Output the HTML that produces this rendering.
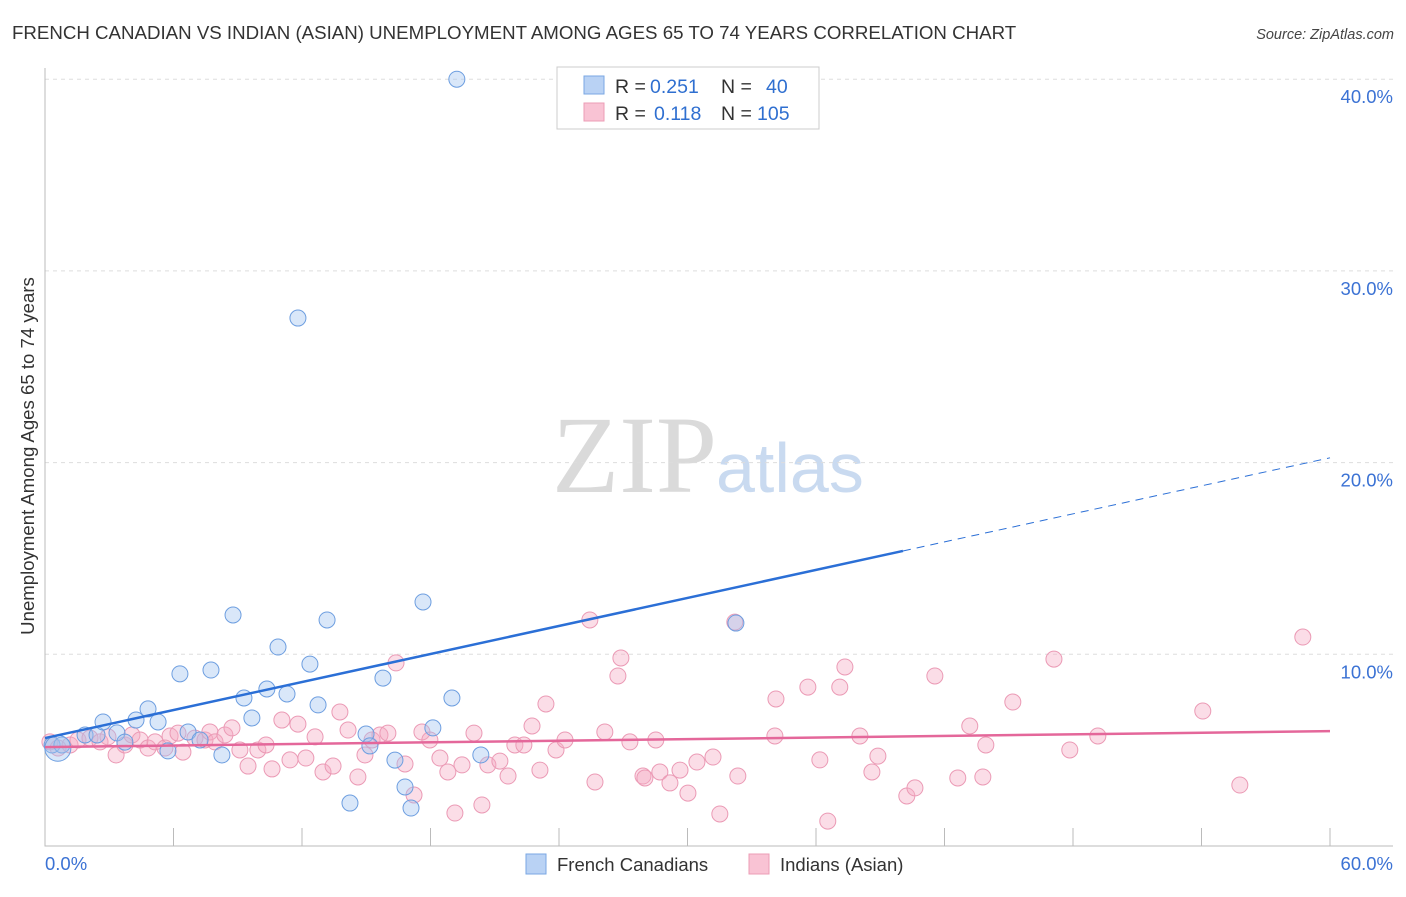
<!DOCTYPE html>
<html><head><meta charset="utf-8"><style>
body{margin:0;background:#fff;font-family:"Liberation Sans",sans-serif}
</style></head><body>
<svg id="chart" width="1406" height="892" xmlns="http://www.w3.org/2000/svg" font-family="Liberation Sans, sans-serif">
<text x="12" y="39" font-size="18.7" fill="#333">FRENCH CANADIAN VS INDIAN (ASIAN) UNEMPLOYMENT AMONG AGES 65 TO 74 YEARS CORRELATION CHART</text>
<text x="1394" y="39" font-size="14.5" fill="#444" text-anchor="end" font-style="italic">Source: ZipAtlas.com</text>
<g>
<text x="552" y="492" font-size="110" font-family="Liberation Serif, serif" fill="#dadada">ZIP</text>
<text x="716" y="492" font-size="70" fill="#c9daf0">atlas</text>
</g>
<g id="grid"></g><g id="axes"></g><g id="pts"></g><g id="trends"></g>
<text transform="translate(34,456) rotate(-90)" font-size="18.6" fill="#333" text-anchor="middle">Unemployment Among Ages 65 to 74 years</text>
<g font-size="19.5" fill="#333">
<rect x="557" y="67" width="262" height="62" fill="#fff" stroke="#ccc"/>
<rect x="584" y="76" width="20" height="18" fill="#b9d2f4" stroke="#7aa7e3"/>
<rect x="584" y="103" width="20" height="18" fill="#f9c3d4" stroke="#ec9cb6"/>
<text x="615" y="93">R =</text><text x="650" y="93" fill="#2f6fd0">0.251</text>
<text x="721" y="93">N =</text><text x="766" y="93" fill="#2f6fd0">40</text>
<text x="615" y="120">R =</text><text x="654" y="120" fill="#2f6fd0">0.118</text>
<text x="721" y="120">N =</text><text x="757" y="120" fill="#2f6fd0">105</text>
</g>
<g>
<rect x="526" y="854" width="20" height="20" fill="#b9d2f4" stroke="#7aa7e3"/>
<text x="557" y="871" font-size="18.5" fill="#333">French Canadians</text>
<rect x="749" y="854" width="20" height="20" fill="#f9c3d4" stroke="#ec9cb6"/>
<text x="780" y="871" font-size="18.5" fill="#333">Indians (Asian)</text>
</g>
</svg>
<script>
const yTicks=[10,20,30,40];
const xTickLabels=["0.0%","60.0%"];
const blueX=[0.33,0.79,1.87,2.43,2.71,3.36,3.73,4.25,4.81,5.28,5.74,6.30,6.68,7.24,7.75,8.26,8.78,9.29,9.66,10.36,10.88,11.30,11.81,12.37,12.75,13.17,14.24,14.99,15.17,15.78,16.34,16.81,17.09,17.65,18.11,19.00,19.23,20.35,32.26,0.6];
const blueY=[5.27,5.27,5.79,5.79,6.47,5.90,5.42,6.57,7.15,6.47,4.96,8.98,5.95,5.53,9.18,4.75,12.05,7.72,6.68,8.19,10.38,7.93,27.54,9.49,7.36,11.79,2.24,5.84,5.22,8.76,4.48,3.08,1.98,12.73,6.16,7.72,40.0,4.75,11.63,5.1];
const pinkX=[0.23,0.61,1.17,1.54,2.10,2.57,2.94,3.32,3.73,4.06,4.44,4.81,5.14,5.60,5.84,6.21,6.44,7.00,7.47,7.70,7.94,8.40,8.73,9.10,9.48,9.94,10.32,10.60,11.06,11.44,11.81,12.18,12.61,12.98,13.45,13.77,14.15,14.61,14.94,15.27,15.64,16.01,16.39,16.81,17.23,17.60,17.97,18.44,18.81,19.14,19.47,20.03,20.40,20.68,21.24,21.62,21.94,22.36,22.74,23.11,23.39,23.86,24.28,25.44,25.68,26.14,26.75,26.89,27.31,27.92,28.01,28.52,28.71,29.18,29.65,30.02,30.44,31.19,31.51,32.21,32.35,34.13,34.08,35.62,36.18,37.11,37.35,38.05,38.61,38.89,40.24,40.62,41.55,42.62,43.18,43.79,43.93,45.19,47.11,47.85,49.16,54.06,55.79,58.73,36.55];
const pinkY=[5.43,5.11,5.27,5.53,5.63,5.43,5.69,4.75,5.27,5.79,5.53,5.11,5.43,5.11,5.74,5.89,4.90,5.63,5.53,5.95,5.43,5.79,6.16,5.01,4.17,5.01,5.27,4.02,6.57,4.49,6.36,4.59,5.69,3.86,4.17,6.99,6.05,3.60,4.75,5.53,5.79,5.89,9.55,4.28,2.66,5.95,5.53,4.59,3.86,1.72,4.23,5.89,2.14,4.23,4.43,3.65,5.27,5.27,6.26,3.96,7.41,5.01,5.53,11.79,3.34,5.95,8.87,9.81,5.43,3.65,3.55,5.53,3.86,3.29,3.96,2.76,4.38,4.64,1.67,11.68,3.65,7.67,5.74,8.29,4.49,8.29,9.34,5.74,3.86,4.69,2.61,3.03,8.87,3.55,6.26,3.60,5.27,7.51,9.75,5.01,5.74,7.04,3.18,10.9,1.30];
const blueTrend=[5.63,20.25];
const pinkTrend=[5.16,5.99];
const NS="http://www.w3.org/2000/svg";
const X=v=>45+v*(1285/60), Y=v=>846-v*19.17;
function mk(t,a,p){const e=document.createElementNS(NS,t);for(const k in a)e.setAttribute(k,a[k]);p.appendChild(e);return e;}
const grid=document.getElementById('grid'),axes=document.getElementById('axes'),pts=document.getElementById('pts'),tr=document.getElementById('trends');
yTicks.forEach(t=>{
 const l=mk('line',{x1:45,x2:1393,y1:Y(t),y2:Y(t),stroke:'#ddd','stroke-dasharray':'4,4'},grid);
 
 
 const tx=mk('text',{x:1393,y:Y(t)+24,'font-size':18.5,fill:'#3b72d4','text-anchor':'end'},grid);
 tx.textContent=t.toFixed(1)+'%';
 
 
});
const ax=mk('path',{d:'M45,68V846H1393',stroke:'#bbb',fill:'none'},axes);


for(let i=0;i<=10;i++){const t=mk('line',{x1:X(i*6),x2:X(i*6),y1:828,y2:846,stroke:'#bbb'},axes);
 
 }
[[0,'start',45],[60,'end',1393]].forEach((d,i)=>{const t=mk('text',{x:d[2],y:870,'font-size':18.5,fill:'#3b72d4','text-anchor':d[1]},axes);t.textContent=xTickLabels[i];
 
 });
pinkX.forEach((v,i)=>{const c=mk('circle',{cx:X(v),cy:Y(pinkY[i]),r:8,fill:'rgba(245,170,195,0.4)',stroke:'#eb9ab5','stroke-width':1},pts);
 
 });
blueX.forEach((v,i)=>{const c=mk('circle',{cx:X(v),cy:Y(blueY[i]),r:i==blueX.length-1?13:8,fill:'rgba(160,195,240,0.4)',stroke:'#6d9ee0','stroke-width':1},pts);
 
 });
const bx=40.06, by=blueTrend[0]+(blueTrend[1]-blueTrend[0])*bx/60;
const b1=mk('line',{x1:X(0),y1:Y(blueTrend[0]),x2:X(bx),y2:Y(by),stroke:'#2b6fd6','stroke-width':2.5},tr);


const b2=mk('line',{x1:X(bx),y1:Y(by),x2:X(60),y2:Y(blueTrend[1]),stroke:'#2b6fd6','stroke-width':1,'stroke-dasharray':'8,6'},tr);


const p1=mk('line',{x1:X(0),y1:Y(pinkTrend[0]),x2:X(60),y2:Y(pinkTrend[1]),stroke:'#e4679a','stroke-width':2.5},tr);


</script>
</body></html>
